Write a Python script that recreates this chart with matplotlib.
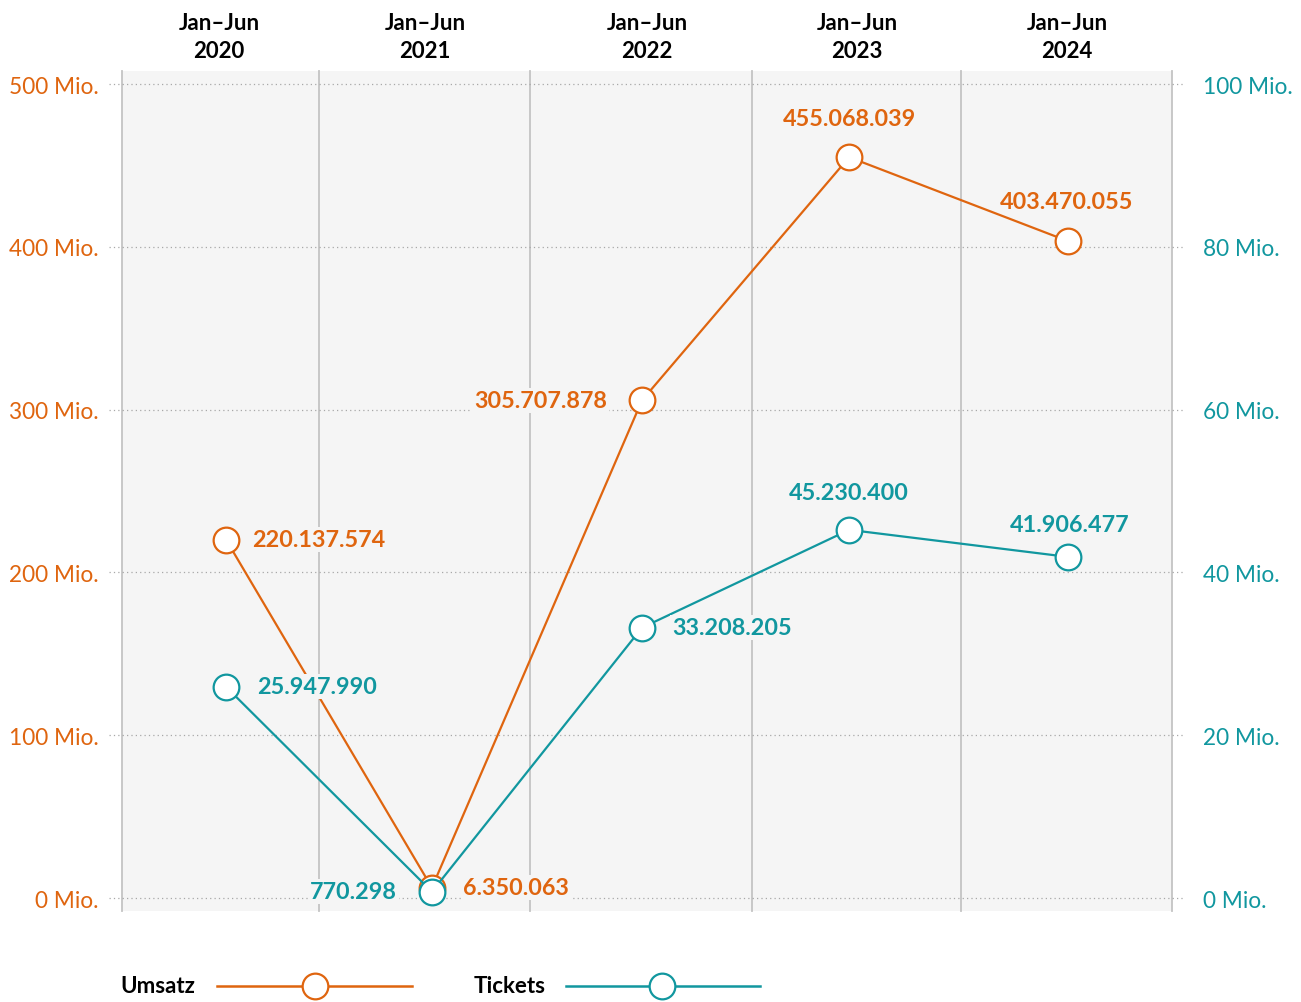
import matplotlib.pyplot as plt
from matplotlib.lines import Line2D

plt.rcParams['font.family'] = ['Lato', 'DejaVu Sans']

# data
periods = ['Jan–Jun\n2020', 'Jan–Jun\n2021', 'Jan–Jun\n2022', 'Jan–Jun\n2023', 'Jan–Jun\n2024']
umsatz = [220137574, 6350063, 305707878, 455068039, 403470055]
tickets = [25947990, 770298, 33208205, 45230400, 41906477]
umsatz_labels = ['220.137.574', '6.350.063', '305.707.878', '455.068.039', '403.470.055']
tickets_labels = ['25.947.990', '770.298', '33.208.205', '45.230.400', '41.906.477']
left_ticks = [0, 100, 200, 300, 400, 500]
right_ticks = [0, 20, 40, 60, 80, 100]

ORANGE = '#df650f'
TEAL = '#11979f'
PANEL = '#f5f5f5'

# horizontal layout of the time columns
x = [0, 0.978, 1.976, 2.96, 4.0]
label_x = [-0.033, 0.945, 2.0, 2.998, 3.995]
bounds = [-0.494, 0.44, 1.444, 2.499, 3.492, 4.494]

umsatz_m = [v / 1e6 for v in umsatz]
tickets_m = [v / 1e6 for v in tickets]

fig = plt.figure(figsize=(13.01, 10.03), dpi=100)
ax = fig.add_axes([0.0938, 0.0907, 0.9009 - 0.0938, 0.9282 - 0.0907])
ax.set_facecolor(PANEL)
ax.set_xlim(bounds[0], bounds[-1])
ax.set_ylim(-8, 508)
for s in ax.spines.values():
    s.set_visible(False)

# column separators
for b in bounds:
    ax.axvline(b, color='#c4c4c4', lw=1.3, zorder=1, clip_on=False)
# horizontal dotted grid
for t in left_ticks:
    ax.axhline(t, xmin=-0.012, xmax=1.012, color='#a8a8a8', lw=0.9,
               linestyle=(0, (1, 2.5)), zorder=1, clip_on=False)

ax.set_yticks(left_ticks)
ax.set_yticklabels([f'{t} Mio.' for t in left_ticks], color=ORANGE, fontsize=16.3)
ax.tick_params(axis='y', length=0, pad=17)

ax.xaxis.tick_top()
ax.set_xticks(label_x)
ax.set_xticklabels(periods, fontsize=16, fontweight='bold', linespacing=1.4)
ax.tick_params(axis='x', length=0, pad=7)

ax2 = ax.twinx()
ax2.set_ylim(-8 / 5, 508 / 5)
ax2.set_facecolor('none')
for s in ax2.spines.values():
    s.set_visible(False)
ax2.set_yticks(right_ticks)
ax2.set_yticklabels([f'{t} Mio.' for t in right_ticks], color=TEAL, fontsize=16.3)
ax2.tick_params(axis='y', length=0, pad=22)

mk = dict(marker='o', markersize=18.5, markerfacecolor='white', markeredgewidth=1.6, lw=1.6)
ax.plot(x, umsatz_m, color=ORANGE, zorder=3, **mk)
ax2.plot(x, tickets_m, color=TEAL, zorder=3, **mk)

lab = dict(fontsize=16.8, fontweight='bold', textcoords='offset pixels', va='center', zorder=4)
halo = dict(boxstyle='square,pad=0.08', fc=PANEL, ec='none')

# label placements (offset in pixels, horizontal alignment)
u_pos = [((26, 0), 'left'), ((31, 0), 'left'), ((-35, 0), 'right'), ((0, 39), 'center'), ((-2, 40), 'center')]
t_pos = [((31, 0), 'left'), ((-35, 0), 'right'), ((30, 0), 'left'), ((0, 37), 'center'), ((2, 32), 'center')]

for xi, v, s, (off, ha) in zip(x, umsatz_m, umsatz_labels, u_pos):
    ax.annotate(s, (xi, v), xytext=off, ha=ha, color=ORANGE,
                bbox=halo if ha != 'center' else None, **lab)
for xi, v, s, (off, ha) in zip(x, tickets_m, tickets_labels, t_pos):
    ax2.annotate(s, (xi, v), xytext=off, ha=ha, color=TEAL,
                 bbox=halo if ha != 'center' else None, **lab)

# legend
ly = 1 - 987 / 1003
fig.text(120 / 1301, ly, 'Umsatz', fontsize=16, fontweight='bold', va='center')
fig.add_artist(Line2D([217 / 1301, 412 / 1301], [ly, ly], color=ORANGE, lw=1.8))
fig.add_artist(Line2D([315 / 1301], [ly], color=ORANGE, marker='o', markersize=18.5,
                      markerfacecolor='white', markeredgewidth=1.6))
fig.text(474 / 1301, ly, 'Tickets', fontsize=16, fontweight='bold', va='center')
fig.add_artist(Line2D([566 / 1301, 760 / 1301], [ly, ly], color=TEAL, lw=1.8))
fig.add_artist(Line2D([662 / 1301], [ly], color=TEAL, marker='o', markersize=18.5,
                      markerfacecolor='white', markeredgewidth=1.6))

fig.savefig('out.png', dpi=100)
